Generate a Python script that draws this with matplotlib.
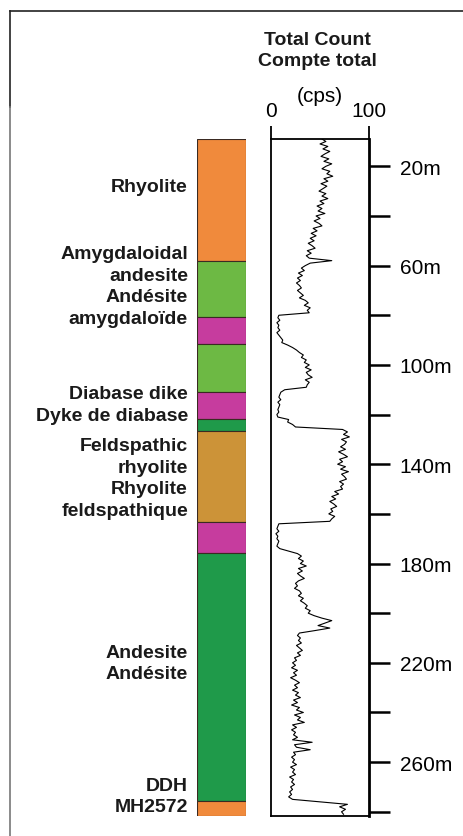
import matplotlib
matplotlib.use("Agg")
import matplotlib.pyplot as plt
from matplotlib.lines import Line2D

plt.rcParams['font.family'] = ['Liberation Sans', 'DejaVu Sans']

# ---------------------------------------------------------------------------
# Lithology column (depth in m, top / bottom of each unit)
# ---------------------------------------------------------------------------
unit_top = [9.0, 58.3, 80.6, 91.6, 110.8, 121.8, 126.8, 163.3, 175.7, 275.8]
unit_base = [58.3, 80.6, 91.6, 110.8, 121.8, 126.8, 163.3, 175.7, 275.8, 281.7]
unit_color = ['#F08A3C', '#6DB944', '#C63C9E', '#6DB944', '#C63C9E',
              '#1F9A4A', '#CC9338', '#C63C9E', '#1F9A4A', '#F08A3C']

label_text = ["Rhyolite",
              "Amygdaloidal\nandesite\nAndésite\namygdaloïde",
              "Diabase dike\nDyke de diabase",
              "Feldspathic\nrhyolite\nRhyolite\nfeldspathique",
              "Andesite\nAndésite",
              "DDH\nMH2572"]
label_depth = [28.0, 68.2, 116.0, 145.5, 220.1, 273.6]

# ---------------------------------------------------------------------------
# Total count log (cps), every metre
# ---------------------------------------------------------------------------
depth_m = [9, 10, 11, 12, 13, 14, 15, 16, 17, 18,
           19, 20, 21, 22, 23, 24, 25, 26, 27, 28,
           29, 30, 31, 32, 33, 34, 35, 36, 37, 38,
           39, 40, 41, 42, 43, 44, 45, 46, 47, 48,
           49, 50, 51, 52, 53, 54, 55, 56, 57, 58,
           59, 60, 61, 62, 63, 64, 65, 66, 67, 68,
           69, 70, 71, 72, 73, 74, 75, 76, 77, 78,
           79, 80, 81, 82, 83, 84, 85, 86, 87, 88,
           89, 90, 91, 92, 93, 94, 95, 96, 97, 98,
           99, 100, 101, 102, 103, 104, 105, 106, 107, 108,
           109, 110, 111, 112, 113, 114, 115, 116, 117, 118,
           119, 120, 121, 122, 123, 124, 125, 126, 127, 128,
           129, 130, 131, 132, 133, 134, 135, 136, 137, 138,
           139, 140, 141, 142, 143, 144, 145, 146, 147, 148,
           149, 150, 151, 152, 153, 154, 155, 156, 157, 158,
           159, 160, 161, 162, 163, 164, 165, 166, 167, 168,
           169, 170, 171, 172, 173, 174, 175, 176, 177, 178,
           179, 180, 181, 182, 183, 184, 185, 186, 187, 188,
           189, 190, 191, 192, 193, 194, 195, 196, 197, 198,
           199, 200, 201, 202, 203, 204, 205, 206, 207, 208,
           209, 210, 211, 212, 213, 214, 215, 216, 217, 218,
           219, 220, 221, 222, 223, 224, 225, 226, 227, 228,
           229, 230, 231, 232, 233, 234, 235, 236, 237, 238,
           239, 240, 241, 242, 243, 244, 245, 246, 247, 248,
           249, 250, 251, 252, 253, 254, 255, 256, 257, 258,
           259, 260, 261, 262, 263, 264, 265, 266, 267, 268,
           269, 270, 271, 272, 273, 274, 275, 276, 277, 278,
           279, 280, 281]
cps = [52, 56, 50, 58, 53, 60, 55, 51, 59, 54,
       62, 56, 52, 60, 57, 63, 54, 58, 51, 57,
       53, 49, 56, 52, 58, 50, 54, 47, 52, 48,
       55, 46, 50, 44, 49, 52, 43, 47, 41, 46,
       40, 44, 38, 42, 45, 37, 41, 36, 39, 62,
       40, 35, 31, 34, 28, 32, 27, 30, 26, 29,
       31, 27, 30, 33, 29, 35, 38, 34, 40, 37,
       39, 8, 7, 9, 6, 8, 7, 9, 6, 8,
       10, 12, 11, 17, 22, 26, 29, 33, 31, 36,
       34, 39, 35, 41, 36, 38, 42, 35, 39, 37,
       36, 14, 10, 9, 8, 10, 7, 9, 8, 7,
       8, 6, 7, 18, 17, 22, 25, 73, 78, 74,
       80, 72, 77, 75, 71, 76, 69, 74, 78, 70,
       73, 68, 76, 71, 79, 72, 75, 77, 70, 74,
       71, 73, 65, 69, 62, 66, 60, 64, 67, 61,
       63, 59, 65, 62, 60, 8, 7, 6, 8, 5,
       7, 6, 8, 7, 6, 9, 18, 27, 31, 28,
       33, 30, 36, 28, 32, 27, 30, 34, 28, 25,
       27, 24, 29, 31, 28, 33, 30, 34, 37, 35,
       40, 38, 44, 52, 62, 55, 48, 60, 45, 29,
       27, 30, 28, 31, 26, 29, 32, 27, 30, 24,
       26, 22, 25, 21, 27, 23, 26, 20, 25, 29,
       24, 27, 22, 28, 25, 30, 23, 27, 21, 29,
       26, 33, 24, 30, 27, 34, 22, 26, 21, 25,
       23, 27, 22, 42, 24, 26, 40, 23, 25, 21,
       24, 22, 26, 20, 24, 22, 25, 19, 23, 21,
       24, 20, 22, 19, 21, 18, 22, 50, 78, 70,
       76, 72, 74]

depth_ticks = [20, 40, 60, 80, 100, 120, 140, 160, 180, 200, 220, 240, 260, 280]
depth_labels = ['20m', '', '60m', '', '100m', '', '140m', '', '180m', '',
                '220m', '', '260m', '']

W, H = 463, 837


def box(x0, y0, x1, y1):
    # pixel box (top-left origin) -> figure fraction rect
    return [x0 / W, 1 - y1 / H, (x1 - x0) / W, (y1 - y0) / H]


fig = plt.figure(figsize=(W / 100, H / 100), dpi=100)

# ----- lithology column ----------------------------------------------------
ax_lith = fig.add_axes(box(197, 140, 246, 817))
heights = [b - t for t, b in zip(unit_top, unit_base)]
ax_lith.bar([0] * len(unit_top), heights, bottom=unit_top, width=1.0,
            color=unit_color, edgecolor='#3a2a22', linewidth=0.8)
ax_lith.set_xlim(-0.5, 0.5)
ax_lith.set_ylim(281.7, 9.0)
ax_lith.axis('off')

for txt, d in zip(label_text, label_depth):
    ax_lith.annotate(txt, xy=(0, d), xycoords=('axes fraction', 'data'),
                     xytext=(-6.5, 0), textcoords='offset points',
                     ha='right', va='center', fontsize=14, fontweight='bold',
                     linespacing=1.35, color='#1a1a1a')

# ----- total count log -----------------------------------------------------
ax = fig.add_axes(box(271, 140, 369, 817))
ax.plot(cps, depth_m, color='black', linewidth=0.8)
ax.set_xlim(0, 100)
ax.set_ylim(281.7, 9.0)

for s in ax.spines.values():
    s.set_linewidth(1.3)
ax.spines['right'].set_linewidth(2.0)

ax.xaxis.tick_top()
ax.set_xticks([0, 100])
ax.set_xticklabels(['0', '100'])
ax.tick_params(axis='x', direction='out', length=9.5, width=1.3, pad=4,
               labelsize=15)

ax.yaxis.tick_right()
ax.set_yticks(depth_ticks)
ax.set_yticklabels(depth_labels)
ax.tick_params(axis='y', direction='out', length=15, width=1.8, pad=7,
               labelsize=15)

ax.annotate('(cps)', xy=(0.5, 1.0), xycoords='axes fraction',
            xytext=(0, 31), textcoords='offset points',
            ha='center', va='center', fontsize=15)
ax.annotate('Total Count\nCompte total', xy=(0.47, 1.0), xycoords='axes fraction',
            xytext=(0, 64), textcoords='offset points',
            ha='center', va='center', fontsize=14, fontweight='bold',
            linespacing=1.28, color='#1a1a1a')

# ----- page frame --------------------------------------------------------
fig.add_artist(Line2D([10 / W, 1], [1 - 12 / H, 1 - 12 / H],
                      transform=fig.transFigure, color='#222222', linewidth=1.2))
fig.add_artist(Line2D([10 / W, 10 / W], [1 - 12 / H, 1 - 108 / H],
                      transform=fig.transFigure, color='#222222', linewidth=1.2))
fig.add_artist(Line2D([10 / W, 10 / W], [1 - 108 / H, 0],
                      transform=fig.transFigure, color='#777777', linewidth=1.2))

fig.savefig('out.png', dpi=100)
